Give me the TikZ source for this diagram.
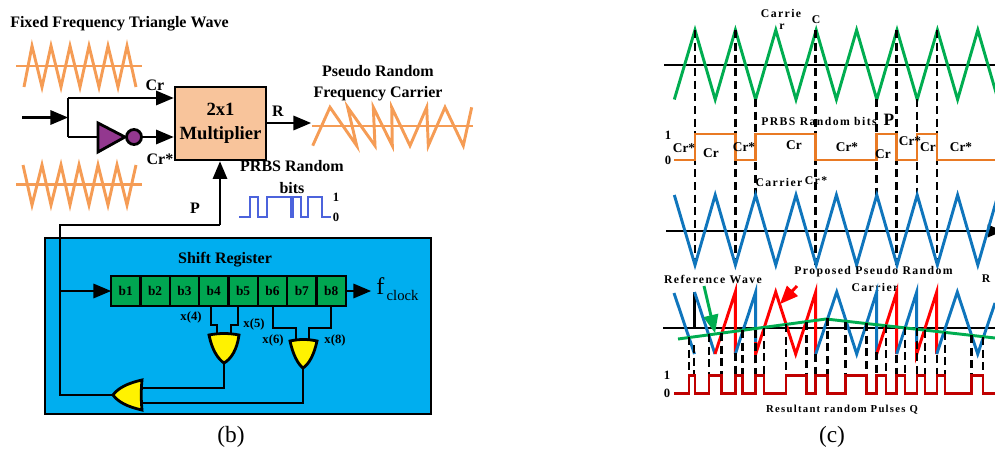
\documentclass[tikz,border=0pt]{standalone}
\usepackage{fontspec}
\setmainfont{Liberation Serif}
\newfontfamily\spacedfont[LetterSpace=12]{Liberation Serif}
\usepackage{tikz}
\usetikzlibrary{arrows,positioning,calc}

\definecolor{wavelight}{HTML}{F59C55}
\definecolor{multfill}{HTML}{F8C49B}
\definecolor{invfill}{HTML}{93388F}
\definecolor{prbsblue}{HTML}{4C63DC}
\definecolor{boxblue}{HTML}{00AEEF}
\definecolor{regreen}{HTML}{00A651}
\definecolor{wavegreen}{HTML}{00AD50}
\definecolor{waveblue}{HTML}{0F75BC}
\definecolor{waveorange}{HTML}{E97A24}
\definecolor{pulsered}{HTML}{C00000}

\begin{document}
\begin{tikzpicture}[x=0.75pt, y=-0.75pt,
    lbl/.style={font=\bfseries\fontsize{12}{14}\selectfont, inner sep=0pt, align=center},
    small/.style={font=\bfseries\fontsize{9.5}{11}\selectfont, inner sep=0pt},
    note/.style={font=\spacedfont\bfseries\fontsize{8.8}{10}\selectfont, inner sep=0pt},
    seglabel/.style={font=\bfseries\fontsize{10}{12}\selectfont, inner sep=0pt},
    caption/.style={font=\fontsize{17.5}{20}\selectfont, inner sep=0pt},
    wire/.style={draw=black, line width=2.1pt},
    arrow/.style={wire, -triangle 45},
    lightwave/.style={draw=wavelight, line width=2.2pt},
    cell/.style={rectangle, draw, line width=1.7pt, fill=regreen, minimum width=29.35*0.75pt, minimum height=30*0.75pt, inner sep=0pt, outer sep=0pt, font=\bfseries\fontsize{10}{11}\selectfont},
    gate/.style={draw=black, line width=2.1pt, fill=yellow},
    drop/.style={draw=black, line width=2.2pt, dash pattern=on 6pt off 3.5pt},
    axisline/.style={draw=black, line width=1.7pt},
    greenwave/.style={draw=wavegreen, line width=2.2pt},
    bluewave/.style={draw=waveblue, line width=2.2pt},
    redwave/.style={draw=red, line width=2.2pt}
]
\useasboundingbox (0,0) rectangle (995,450);

% Triangle waves
\node[lbl, anchor=west] (title) at (10,24) {Fixed Frequency Triangle Wave};
\draw[lightwave] (16,66) -- (142,66);
\draw[lightwave] (24,87) -- (32,46) -- (42,87) -- (51,46) -- (61,87) -- (70,46) -- (80,87) -- (89,46) -- (99,87) -- (108,46) -- (118,87) -- (127,46) -- (136,87);
\draw[lightwave] (16,184.5) -- (142,184.5);
\draw[lightwave] (23,165) -- (32,205) -- (42,165) -- (51,205) -- (61,165) -- (70,205) -- (79,165) -- (89,205) -- (98,165) -- (108,205) -- (117,165) -- (127,205) -- (136,165);

% Multiplier
\node[rectangle, draw, line width=2.1pt, fill=multfill, minimum width=91*0.75pt, minimum height=73*0.75pt, inner sep=0pt, align=center, font=\bfseries\fontsize{14}{18}\selectfont] (mult) at (220.5,123.5) {2x1\\Multiplier};
\coordinate (start) at (22,117.5);
\coordinate (fork) at (68,117.5);
\coordinate (forkup) at (68,98);
\coordinate (forkdown) at (68,137);
\coordinate (multup) at (mult.west |- forkup);
\coordinate (multdown) at (mult.west |- forkdown);

% Inverter
\coordinate (invin) at (98,137);
\coordinate (invtip) at (125,137);
\draw[line width=2.1pt, fill=invfill] (98,123) -- (invtip) -- (98,152) -- cycle;
\node[circle, draw, line width=2.1pt, fill=invfill, minimum size=15*0.75pt, inner sep=0pt] (bubble) at (134,137) {};

\draw[arrow] (start) -- (fork);
\draw[wire] (forkup) -- (forkdown);
\draw[arrow] (forkup) -- (multup);
\draw[wire] (forkdown) -- (invin);
\draw[arrow] (bubble) -- (multdown);

\node[lbl] (crlabel) at (155,85) {Cr};
\node[lbl] (crstar) at (160,159) {Cr*};

% Output
\coordinate (outend) at (311,123);
\draw[arrow] (mult.east |- outend) -- (outend);
\node[lbl] (rlabel) at (278,111) {R};
\node[lbl] (pseudo) at (378,83) {Pseudo Random\\[1.5pt]Frequency Carrier};
\draw[lightwave] (312,126) -- (473,126);
\draw[lightwave] (312.7,145.7) -- (330,107.3) -- (356.7,145.7) -- (347.7,107.3) -- (375,145.7) -- (373.3,107.3) -- (392.3,145.7) -- (391.7,107.3) -- (410,145.7) -- (426.7,107.3) -- (428.3,145.7) -- (445,107.3) -- (463.3,145.7) -- (471.7,107.3);

% PRBS bits
\node[lbl, align=center] (prbs) at (292,177) {PRBS Random\\[3pt]bits};
\draw[draw=prbsblue, line width=1.8pt] (239,217) -- (250,217) -- (250,197) -- (258,197) -- (258,217) -- (267,217) -- (267,197) -- (291,197) -- (291,217) -- (293,217) -- (293,197) -- (301,197) -- (301,217) -- (308,217) -- (308,197) -- (322,197) -- (322,217) -- (331,217);
\node[small] (bitone) at (336,197) {1};
\node[small] (bitzero) at (336,217) {0};

% Shift register
\node[rectangle, draw, line width=1.9pt, fill=boxblue, minimum width=386*0.75pt, minimum height=176*0.75pt, inner sep=0pt] (shiftbox) at (238,326) {};
\node[lbl] (shiftlabel) at (225,260) {Shift Register};
\node[cell] (b1) at (125.7,291) {b1};
\foreach \i [remember=\i as \j (initially 1)] in {2,...,8}
    \node[cell, right=0pt of b\j] (b\i) {b\i};

\coordinate (clockend) at (371,291);
\draw[arrow] (b8) -- (clockend);
\node[font=\fontsize{18}{20}\selectfont, inner sep=0pt, anchor=west] (fclock) at (376,289) {f\raisebox{-5pt}{\fontsize{11}{12}\selectfont\,clock}};

% Gates
\coordinate (gatea) at (224,363);
\coordinate (gateb) at (303,368);
\coordinate (gatec) at (113,395);
\draw[gate] (209,335) .. controls (212,350) and (218,359) .. (gatea) .. controls (231,359) and (237,350) .. (239,335) .. controls (229,333) and (219,333) .. cycle;
\draw[gate] (290,341) .. controls (293,355) and (298,364) .. (gateb) .. controls (309,364) and (314,355) .. (317,341) .. controls (308,339) and (299,339) .. cycle;
\draw[gate] (142,380) .. controls (128,383) and (118,388) .. (gatec) .. controls (118,402) and (128,407) .. (142,410) .. controls (141,400) and (141,390) .. cycle;

% Register taps
\coordinate (tapa) at (211,306);
\coordinate (tapb) at (238,306);
\coordinate (tapc) at (273,306);
\coordinate (tapd) at (331,306);
\draw[wire] (tapa) -- (211,325) -- (217,325) -- (217,334);
\draw[wire] (tapb) -- (238,325) -- (231,325) -- (231,334);
\draw[wire] (tapc) -- (273,328) -- (296,328) -- (296,340);
\draw[wire] (tapd) -- (331,328) -- (309,328) -- (309,340);
\draw[wire] (gatea) -- (224,388) -- (142,388);
\draw[wire] (gateb) -- (303,403) -- (142,403);

% Feedback
\coordinate (fbcorner) at (60,395);
\coordinate (fbtop) at (60,225);
\coordinate (fbright) at (220,225);
\draw[wire] (gatec) -- (fbcorner) -- (fbtop) -- (fbright);
\draw[arrow] (fbright) -- (mult.south -| fbright);
\coordinate (fbtap) at (60,291);
\draw[arrow] (fbtap) -- (b1);
\node[lbl] (plabel) at (195,208) {P};
\node[small] (xfour) at (191,317) {x(4)};
\node[small] (xfive) at (254,324) {x(5)};
\node[small] (xsix) at (273,340) {x(6)};
\node[small] (xeight) at (335,340) {x(8)};
\node[caption] (capb) at (231,437) {(b)};

% Carrier
\draw[axisline] (664,65) -- (995,65);
\draw[greenwave] (674.3,99.5) \foreach \k in {0,...,7} { -- (695+40.4*\k,30) -- (715.2+40.4*\k,99.5) };
\node[note] (carrie) at (781,13) {Carrie};
\node[note] (carrier) at (782,27) {r};
\node[note] (cmark) at (816,20) {C};

% Drops from carrier
\foreach \x/\t/\y in {695/30/265, 735.3/30/265, 755.3/99/197, 815.7/30/265, 876.7/99/197, 896.7/30/265, 917/99/197, 937/30/265}
    \draw[drop] (\x,\t) -- (\x,\y);

% PRBS
\draw[draw=waveorange, line width=2.2pt] (674,160) -- (695,160) -- (695,134) -- (735.3,134) -- (735.3,160) -- (755.3,160) -- (755.3,134) -- (815.7,134) -- (815.7,160) -- (876.7,160) -- (876.7,134) -- (896.7,134) -- (896.7,160) -- (917,160) -- (917,134) -- (937,134) -- (937,160) -- (995,160);
\node[note] (prbstext) at (819,121) {PRBS Random bits};
\node[font=\bfseries\fontsize{13}{15}\selectfont, inner sep=0pt] (pmark) at (889,120) {P};
\node[small] (levelone) at (668,135) {1};
\node[small] (levelzero) at (668,160) {0};
\foreach \x/\y/\t [count=\n] in {684/148/Cr*, 711/153/Cr, 744/147/Cr*, 794/145/Cr, 847/147/Cr*, 883/154/Cr, 910/141/Cr*, 928/147/Cr, 961/147/Cr*}
    \node[seglabel] (seg\n) at (\x,\y) {\t};

% Reference wave
\draw[axisline, -triangle 45] (666,231) -- (1003,231);
\draw[bluewave] (674.3,195) \foreach \k in {0,...,7} { -- (695+40.4*\k,265) -- (715.2+40.4*\k,195) };
\node[note] (carrierb) at (779,182) {Carrier};
\node[note] (crb) at (816,181) {Cr*};
\node[note] (refwave) at (713,279) {Reference Wave};
\node[note] (proposed) at (873.5,272) {Proposed Pseudo Random};
\node[note] (proposedb) at (875,287) {Carrier};
\node[note] (rmark) at (986,279) {R};

% Pseudo random carrier
\draw[axisline] (663,327.7) -- (995,327.7);
\draw[draw=black, line width=2.2pt] (694.5,292) -- (694.5,328);
\draw[bluewave] (674,293) -- (694.5,354);
\draw[bluewave] (694.5,292) -- (715,354);
\draw[redwave] (715,354) -- (735.3,292) -- (735.3,354);
\draw[bluewave] (735.3,354) -- (755.7,292) -- (755.7,342);
\draw[redwave] (755.7,342) -- (755.7,354) -- (775.7,292) -- (795.7,354) -- (815.7,292) -- (815.7,354);
\draw[bluewave] (815.7,354) -- (836.7,292) -- (856.7,354) -- (876.7,292) -- (876.7,354);
\draw[redwave] (876.7,354) -- (896.7,292) -- (896.7,354);
\draw[bluewave] (896.7,354) -- (916.7,292) -- (916.7,342);
\draw[redwave] (916.7,342) -- (916.7,354) -- (936.7,292) -- (936.7,354);
\draw[bluewave] (936.7,354) -- (957.3,292) -- (977.7,354) -- (995,303);
\draw[draw=wavegreen, line width=2.2pt] (678,339) -- (826,319) -- (995,338);
\coordinate (greentail) at (704,286);
\coordinate (greenhead) at (715,333);
\coordinate (redtail) at (797,286);
\coordinate (redhead) at (780,304);
\draw[draw=wavegreen, line width=2.2pt, -triangle 45] (greentail) -- (greenhead);
\draw[draw=red, line width=2.2pt, -triangle 45] (redtail) -- (redhead);

% Comparison drops
\foreach \x/\y in {689/337, 694/345, 709/334, 721.7/333, 735.3/353, 742.7/330, 755.3/330, 764/328, 786/324, 806.7/322, 815.7/354, 827.7/318, 845.7/322, 866.7/323, 876.7/352, 886/325, 896.7/355, 905/327, 917/328, 925/330, 937/355, 945/332, 971.7/335, 983/337}
    \draw[drop] (\x,\y) -- (\x,376);

% Pulses
\draw[draw=pulsered, line width=2.2pt] (674,393.3) -- (689,393.3) \foreach \a/\b in {689/695, 709/721.7, 735.3/742.7, 755.3/764, 786/806.7, 815.7/827.7, 845.7/866.7, 876.7/886, 896.7/905, 917/925, 937/945, 971.7/983} { -- (\a,393.3) -- (\a,375.7) -- (\b,375.7) -- (\b,393.3) } -- (995,393.3);
\node[small] (pulseone) at (667,375) {1};
\node[small] (pulsezero) at (667,393) {0};
\node[note, font=\spacedfont\bfseries\fontsize{8}{10}\selectfont] (pulselabel) at (842,410) {Resultant random Pulses Q};
\node[caption] (capc) at (832,437) {(c)};

\end{tikzpicture}
\end{document}
